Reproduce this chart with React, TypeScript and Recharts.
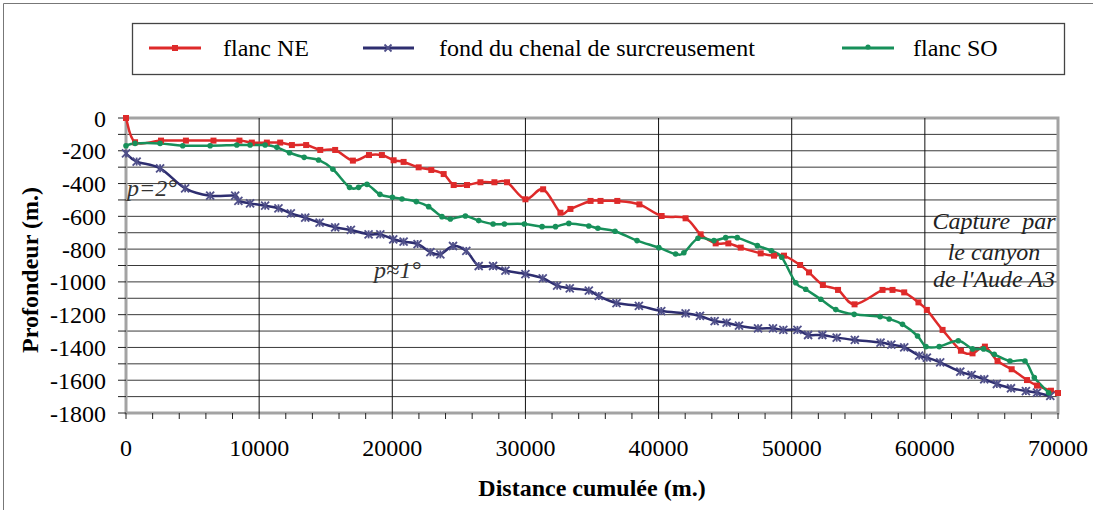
import React from 'react';
import { LineChart, Line, XAxis, YAxis, CartesianGrid, ReferenceLine, ReferenceArea } from 'recharts';

// ---- Data (distance cumulée en m., profondeur en m.) ----
const NE_X = [0, 680, 2630, 4500, 6570, 8520, 9450, 10580, 11580, 12460, 13530, 14590, 15710, 17040, 18250, 19220, 20100, 20850, 21980, 22930, 23860, 24610, 25610, 26620, 27670, 28620, 30000, 31330, 32630, 33380, 34890, 35640, 36900, 38560, 40230, 42030, 43160, 44290, 45240, 46170, 47670, 48670, 49420, 50630, 51300, 52340, 53480, 54720, 56820, 57570, 58450, 59520, 60150, 61330, 62710, 63580, 64510, 65460, 66520, 67670, 68420, 69470, 70000];
const NE_Y = [0, -148, -138, -138, -138, -138, -150, -150, -150, -165, -165, -195, -195, -260, -226, -226, -258, -268, -301, -317, -342, -409, -409, -392, -392, -392, -496, -435, -578, -555, -506, -506, -506, -527, -598, -612, -710, -765, -765, -791, -826, -840, -840, -897, -942, -1019, -1049, -1137, -1049, -1049, -1064, -1125, -1171, -1293, -1420, -1436, -1395, -1483, -1533, -1599, -1633, -1664, -1678];

const FOND_X = [0, 800, 2560, 4440, 6320, 8200, 8440, 9320, 10450, 11450, 12380, 13460, 14540, 15710, 16890, 18220, 19100, 20070, 20850, 21900, 22860, 23610, 24560, 25560, 26490, 27570, 28500, 30000, 31300, 32380, 33330, 34760, 35510, 36840, 38520, 40200, 42030, 43110, 44210, 45110, 46040, 47470, 48590, 49370, 50430, 51230, 52300, 53380, 54740, 56670, 57480, 58450, 59570, 60150, 61150, 62660, 63510, 64460, 65410, 66470, 67590, 68420, 69420];
const FOND_Y = [-216, -266, -307, -429, -474, -474, -506, -521, -535, -551, -582, -608, -639, -667, -683, -710, -710, -740, -755, -769, -819, -832, -781, -811, -903, -903, -931, -952, -978, -1023, -1039, -1053, -1086, -1129, -1146, -1178, -1192, -1208, -1239, -1249, -1267, -1283, -1283, -1293, -1293, -1324, -1324, -1340, -1354, -1370, -1383, -1399, -1450, -1462, -1491, -1548, -1568, -1594, -1623, -1649, -1666, -1676, -1696];

const SO_X = [0, 680, 2560, 4260, 6320, 8320, 9320, 10450, 11330, 12280, 13380, 14460, 15540, 16790, 17470, 18100, 19070, 20010, 20730, 21800, 22730, 23730, 24360, 25490, 26490, 27570, 28420, 29920, 31250, 32260, 33260, 34760, 35440, 36730, 38380, 40020, 41280, 41900, 42960, 44160, 45040, 45910, 47420, 48470, 49250, 50300, 51050, 52180, 53310, 54690, 56640, 57320, 58320, 59450, 60080, 61080, 62510, 63580, 64410, 65210, 66390, 67520, 68220, 69300];
const SO_Y = [-169, -155, -155, -169, -169, -165, -165, -165, -179, -212, -240, -256, -313, -423, -423, -405, -466, -484, -494, -510, -541, -602, -616, -598, -626, -647, -647, -647, -663, -663, -643, -659, -673, -691, -748, -791, -830, -822, -734, -748, -730, -730, -779, -810, -850, -1005, -1045, -1106, -1169, -1198, -1212, -1226, -1259, -1330, -1395, -1395, -1359, -1409, -1409, -1442, -1483, -1483, -1584, -1676];

const X_TICKS = [0, 2000, 4000, 6000, 8000, 10000, 12000, 14000, 16000, 18000, 20000, 22000, 24000, 26000, 28000, 30000, 32000, 34000, 36000, 38000, 40000, 42000, 44000, 46000, 48000, 50000, 52000, 54000, 56000, 58000, 60000, 62000, 64000, 66000, 68000, 70000];
const X_GRID = [10000, 20000, 30000, 40000, 50000, 60000];
const Y_TICKS = [-1800, -1700, -1600, -1500, -1400, -1300, -1200, -1100, -1000, -900, -800, -700, -600, -500, -400, -300, -200, -100, 0];

const SERIES_NAMES = ['flanc NE', 'fond du chenal de surcreusement', 'flanc SO'];
const X_TITLE = 'Distance cumulée (m.)';
const Y_TITLE = 'Profondeur (m.)';

const zip = (xs: number[], ys: number[]) => xs.map((x, i) => ({ x, y: ys[i] }));
const neData = zip(NE_X, NE_Y);
const fondData = zip(FOND_X, FOND_Y);
const soData = zip(SO_X, SO_Y);

const RED = '#DE2A2A';
const NAVY = '#2E2E70';
const NAVY_MK = '#50508A';
const GREEN = '#17905A';
const FONT = "'Times New Roman', Times, 'Liberation Serif', Tinos, 'Nimbus Roman', FreeSerif, 'DejaVu Serif', serif";

// Excel-like smoothing (uniform Catmull-Rom)
const smoothCurve: any = (context: any) => {
  let pts: number[][] = [];
  return {
    areaStart() {},
    areaEnd() {},
    lineStart() { pts = []; },
    point(x: number, y: number) { pts.push([+x, +y]); },
    lineEnd() {
      const n = pts.length;
      if (!n) return;
      context.moveTo(pts[0][0], pts[0][1]);
      for (let i = 0; i < n - 1; i++) {
        const p0 = pts[i - 1] || pts[i];
        const p1 = pts[i];
        const p2 = pts[i + 1];
        const p3 = pts[i + 2] || p2;
        context.bezierCurveTo(
          p1[0] + (p2[0] - p0[0]) / 6, p1[1] + (p2[1] - p0[1]) / 6,
          p2[0] - (p3[0] - p1[0]) / 6, p2[1] - (p3[1] - p1[1]) / 6,
          p2[0], p2[1]
        );
      }
    },
  };
};

const SquareDot = (p: any) => (
  <rect key={`sq-${p.index}`} x={p.cx - 3} y={p.cy - 3} width={6} height={6} fill={RED} />
);
const StarDot = (p: any) => (
  <g key={`st-${p.index}`} stroke={NAVY_MK} strokeWidth={1.8}>
    <line x1={p.cx - 4} y1={p.cy - 4} x2={p.cx + 4} y2={p.cy + 4} />
    <line x1={p.cx - 4} y1={p.cy + 4} x2={p.cx + 4} y2={p.cy - 4} />
    <line x1={p.cx} y1={p.cy - 4} x2={p.cx} y2={p.cy + 4} />
  </g>
);
const CircleDot = (p: any) => (
  <circle key={`ci-${p.index}`} cx={p.cx} cy={p.cy} r={2.8} fill={GREEN} />
);

const fmtX = (v: number) => (v % 10000 === 0 ? String(v) : '');
const fmtY = (v: number) => (v % 200 === 0 ? String(v) : '');

const txt = { fontFamily: FONT } as React.CSSProperties;

export default function App() {
  return (
    <div style={{ position: 'absolute', left: 0, top: 0, width: 1093, height: 510, background: '#fff', fontFamily: FONT }}>
      <LineChart width={1093} height={510} margin={{ top: 118, right: 35, left: 0, bottom: 0 }} style={txt}>
        <CartesianGrid horizontal vertical={false} stroke="#3a3a3a" strokeWidth={1} />
        {X_GRID.map((v) => (
          <ReferenceLine key={v} x={v} stroke="#111" strokeWidth={1} />
        ))}
        <XAxis
          type="number"
          dataKey="x"
          domain={[0, 70000]}
          ticks={X_TICKS}
          tickFormatter={fmtX}
          interval={0}
          height={97}
          axisLine={false}
          tickLine={{ stroke: '#222' }}
          tickSize={6}
          tickMargin={20}
          tick={{ fill: '#000', fontSize: 24, style: txt }}
        />
        <YAxis
          type="number"
          dataKey="y"
          domain={[-1800, 0]}
          ticks={Y_TICKS}
          tickFormatter={fmtY}
          interval={0}
          width={126}
          axisLine={false}
          tickLine={{ stroke: '#222' }}
          tickSize={8}
          tickMargin={12}
          tick={{ fill: '#000', fontSize: 24, style: txt }}
        />
        <ReferenceArea x1={0} x2={70000} y1={-1800} y2={0} fill="none" stroke="#a3a3a3" strokeWidth={3} />
        <Line data={neData} dataKey="y" type={smoothCurve} stroke={RED} strokeWidth={2.5} dot={SquareDot} isAnimationActive={false} name={SERIES_NAMES[0]} />
        <Line data={fondData} dataKey="y" type={smoothCurve} stroke={NAVY} strokeWidth={2.5} dot={StarDot} isAnimationActive={false} name={SERIES_NAMES[1]} />
        <Line data={soData} dataKey="y" type={smoothCurve} stroke={GREEN} strokeWidth={2.5} dot={CircleDot} isAnimationActive={false} name={SERIES_NAMES[2]} />
      </LineChart>
      <svg width={1093} height={510} style={{ position: 'absolute', left: 0, top: 0, pointerEvents: 'none', fontFamily: FONT }}>
        {/* outer frame */}
        <line x1={3.5} y1={3.5} x2={3.5} y2={510} stroke="#777" strokeWidth={1} />
        <line x1={3.5} y1={3.5} x2={1093} y2={3.5} stroke="#777" strokeWidth={1} />
        {/* legend */}
        <rect x={132.5} y={23.5} width={932} height={51} fill="#fff" stroke="#444" strokeWidth={1.3} />
        <line x1={149} y1={48} x2={201} y2={48} stroke={RED} strokeWidth={3} />
        <rect x={172} y={45} width={6} height={6} fill={RED} />
        <text x={223} y={56} fontSize={24} style={txt} fill="#000">{SERIES_NAMES[0]}</text>
        <line x1={363} y1={48} x2={414} y2={48} stroke={NAVY} strokeWidth={3} />
        <g stroke={NAVY_MK} strokeWidth={1.8}>
          <line x1={384.5} y1={44.5} x2={391.5} y2={51.5} />
          <line x1={384.5} y1={51.5} x2={391.5} y2={44.5} />
        </g>
        <text x={439} y={56} fontSize={24} style={txt} fill="#000">{SERIES_NAMES[1]}</text>
        <line x1={842} y1={48} x2={894} y2={48} stroke={GREEN} strokeWidth={3} />
        <circle cx={868} cy={47} r={2.6} fill={GREEN} />
        <text x={913} y={56} fontSize={24} style={txt} fill="#000">{SERIES_NAMES[2]}</text>
        {/* axis titles */}
        <text x={592} y={496} textAnchor="middle" fontSize={24} fontWeight="bold" style={txt} fill="#000">{X_TITLE}</text>
        <text x={0} y={0} transform="translate(38,270) rotate(-90)" textAnchor="middle" fontSize={24} fontWeight="bold" style={txt} fill="#000">{Y_TITLE}</text>
        {/* annotations */}
        <text x={127} y={196} fontSize={24} fontStyle="italic" style={txt} fill="#333">p=2°</text>
        <text x={374} y={278} fontSize={24} fontStyle="italic" style={txt} fill="#333">p≈1°</text>
        <text x={994} y={229} textAnchor="middle" fontSize={24} fontStyle="italic" fill="#222" style={{ ...txt, whiteSpace: 'pre' }}>{'Capture  par'}</text>
        <text x={994} y={260} textAnchor="middle" fontSize={24} fontStyle="italic" style={txt} fill="#222">le canyon</text>
        <text x={994} y={287} textAnchor="middle" fontSize={24} fontStyle="italic" style={txt} fill="#222">de l'Aude A3</text>
      </svg>
    </div>
  );
}
